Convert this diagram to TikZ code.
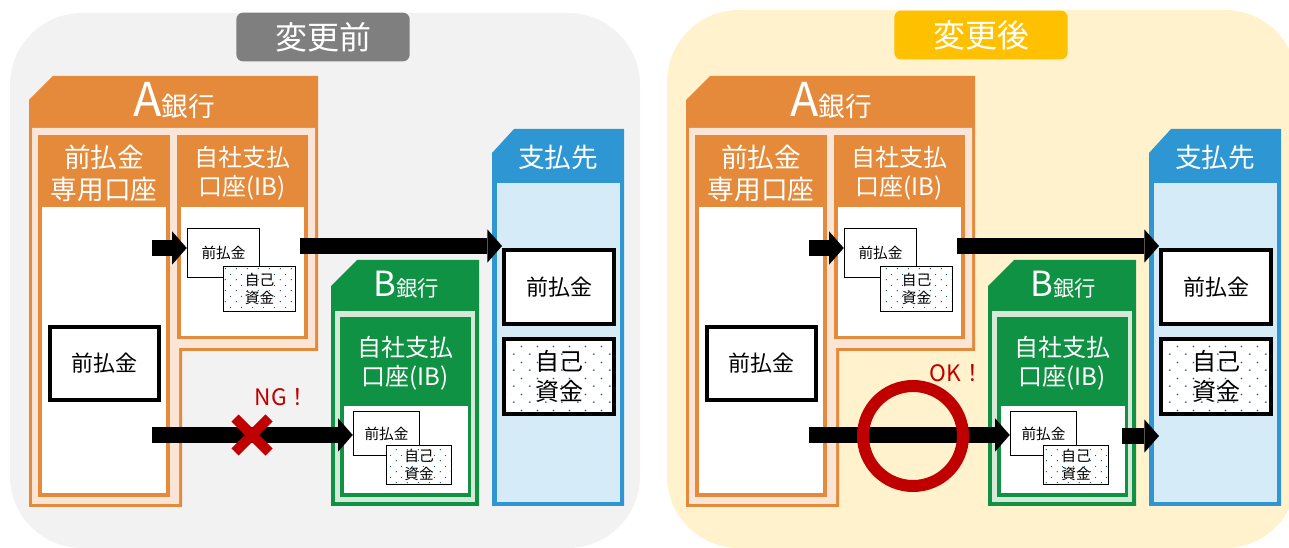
\documentclass[tikz,border=0pt]{standalone}
\usepackage{fontspec}
\setmainfont{Noto Sans CJK JP}
\usetikzlibrary{arrows.meta,patterns}

% colours
\definecolor{bankorange}{RGB}{228,138,58}
\definecolor{peach}{RGB}{251,229,214}
\definecolor{payblue}{RGB}{46,150,211}
\definecolor{paylight}{RGB}{214,235,248}
\definecolor{bankgreen}{RGB}{16,146,68}
\definecolor{greenlight}{RGB}{214,232,214}
\definecolor{beforebg}{RGB}{242,242,242}
\definecolor{afterbg}{RGB}{255,242,204}
\definecolor{beforetag}{RGB}{127,127,127}
\definecolor{aftertag}{RGB}{255,192,0}
\definecolor{ngred}{RGB}{192,0,0}
\definecolor{dotblue}{RGB}{31,78,121}

% sparse dot fills for the own-funds boxes
\pgfdeclarepatternformonly{finedots}{\pgfpointorigin}{\pgfpoint{8pt}{8pt}}{\pgfpoint{8pt}{8pt}}{%
  \pgfpathcircle{\pgfpoint{1pt}{1pt}}{0.5pt}%
  \pgfpathcircle{\pgfpoint{5pt}{5pt}}{0.5pt}%
  \pgfusepath{fill}}
\pgfdeclarepatternformonly{coarsedots}{\pgfpointorigin}{\pgfpoint{12pt}{12pt}}{\pgfpoint{12pt}{12pt}}{%
  \pgfpathcircle{\pgfpoint{1.5pt}{1.5pt}}{0.75pt}%
  \pgfpathcircle{\pgfpoint{7.5pt}{7.5pt}}{0.75pt}%
  \pgfusepath{fill}}

\begin{document}
\begin{tikzpicture}[x=0.75pt,y=-0.75pt,
    tagbox/.style={rounded corners=5pt,minimum width=130pt,minimum height=36.5pt,
      inner sep=0pt,text=white,font=\fontsize{24}{24}\selectfont},
    headtext/.style={text=white,align=center,inner sep=0pt,
      font=\fontsize{20}{24}\selectfont},
    ibtext/.style={headtext,font=\fontsize{18}{21.5}\selectfont},
    smallbox/.style={draw=black,line width=1.1pt,fill=white,inner sep=0pt,
      align=center,font=\fontsize{11}{13}\selectfont},
    bigbox/.style={draw=black,line width=3pt,fill=white,inner sep=0pt,
      align=center,font=\fontsize{16.5}{21}\selectfont},
    finefill/.style={preaction={fill=white},pattern=finedots,pattern color=dotblue},
    coarsefill/.style={preaction={fill=white},pattern=coarsedots,pattern color=dotblue},
    blockarrow/.style={line width=12pt,-{Triangle[length=11pt,width=25pt,line width=0pt]}},
    redtext/.style={text=ngred,inner sep=0pt,font=\fontsize{17}{17}\selectfont}
  ]
  \useasboundingbox (0,0) rectangle (1289,548);

  % backgrounds and tags
  \fill[beforebg,rounded corners=54pt] (10,13) rectangle (640,548);
  \fill[afterbg,rounded corners=54pt] (667,10) rectangle (1297,548);
  \node[tagbox,fill=beforetag] (tagbefore) at (323,37) {変更前};
  \node[tagbox,fill=aftertag] (tagafter) at (981,35) {変更後};

  % the two panels share the same banks and accounts
  \foreach \p/\dx in {L/0,R/657}{
  \begin{scope}[xshift=\dx*0.75pt]
    % A bank
    \fill[bankorange] (29,100) -- (53,76) -- (318,76) -- (318,351) -- (182,351)
      -- (182,507) -- (29,507) -- cycle;
    \fill[peach] (32,128) -- (315,128) -- (315,348) -- (179,348) -- (179,504)
      -- (32,504) -- cycle;
    \node[anchor=base,text=white,inner sep=0pt] (abank\p) at (174,117)
      {{\fontsize{35}{35}\selectfont A}{\fontsize{20}{20}\selectfont 銀行}};
    \fill[bankorange] (38,135) rectangle (170,497);
    \fill[white] (42,207) rectangle (166,493);
    \node[headtext] (acchead\p) at (104,173) {前払金\\専用口座};
    \fill[bankorange] (177,135) rectangle (308,339);
    \fill[white] (181,207) rectangle (304,336);
    \node[ibtext] (ibhead\p) at (242,173) {自社支払\\口座(IB)};
    \node[bigbox,minimum width=81.75pt,minimum height=54.75pt] (acc\p) at (104.5,363.5) {前払金};
    \node[smallbox,minimum width=54pt,minimum height=36.5pt] (pre\p) at (223.5,253) {前払金};
    \node[smallbox,finefill,minimum width=54pt,minimum height=33.5pt] (own\p) at (259.5,289) {自己\\資金};

    % B bank
    \fill[bankgreen] (331,286) -- (357,260) -- (479,260) -- (479,506) -- (331,506) -- cycle;
    \fill[greenlight] (335,311) rectangle (475,502);
    \fill[bankgreen] (340,317) rectangle (471,497);
    \fill[white] (344,406) rectangle (468,493);
    \node[anchor=base,text=white,inner sep=0pt] (bbank\p) at (406,297)
      {{\fontsize{26}{26}\selectfont B}{\fontsize{16}{16}\selectfont 銀行}};
    \node[ibtext] (bibhead\p) at (405,363) {自社支払\\口座(IB)};
    \node[smallbox,minimum width=49.5pt,minimum height=33pt] (bpre\p) at (386.5,433.5) {前払金};
    \node[smallbox,finefill,minimum width=48.5pt,minimum height=29pt] (bown\p) at (419,465) {自己\\資金};

    % payee
    \fill[payblue] (492,153) -- (514,129) -- (624,129) -- (624,506) -- (492,506) -- cycle;
    \fill[paylight] (497,183) rectangle (620,502);
    \node[headtext] (payhead\p) at (558,157) {支払先};
    \node[bigbox,minimum width=82.5pt,minimum height=55.5pt] (paypre\p) at (559,287) {前払金};
    \node[bigbox,coarsefill,minimum width=82.5pt,minimum height=56.25pt,
      font=\fontsize{18}{22}\selectfont] (payown\p) at (559,376.5) {自己\\資金};

    % transfers
    \coordinate (in\p) at (152,248);
    \draw[blockarrow] (in\p) -- (in\p -| pre\p.west);
    \coordinate (out\p) at (300,246);
    \draw[blockarrow] (out\p) -- (out\p -| paypre\p.west);
    \coordinate (low\p) at (152,435);
    \draw[blockarrow] (low\p) -- (low\p -| bpre\p.west);
  \end{scope}}

  % before: blocked
  \coordinate (ng) at (252,435);
  \draw[ngred,line width=7.5pt] (ng) ++(-17,-17) -- ++(34,34);
  \draw[ngred,line width=7.5pt] (ng) ++(17,-17) -- ++(-34,34);
  \node[redtext] (ngtext) at (282,397) {NG！};

  % after: allowed, then on to the payee
  \draw[ngred,line width=9pt] (913,436) circle[radius=37.5pt];
  \node[redtext] (oktext) at (957,373) {OK！};
  \coordinate (bout) at (1122,436);
  \draw[blockarrow] (bout) -- (bout -| payownR.west);
\end{tikzpicture}
\end{document}
